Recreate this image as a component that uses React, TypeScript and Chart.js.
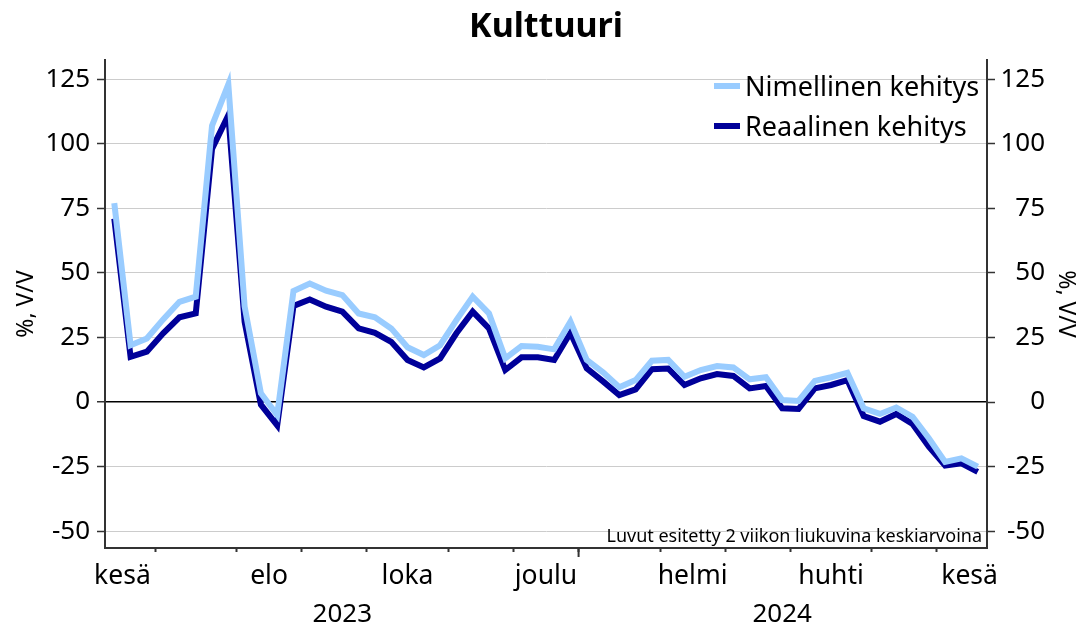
import { useEffect, useRef } from 'react';
import { Chart, registerables } from 'chart.js';

Chart.register(...registerables);

// ---- data ----
const chartTitle = 'Kulttuuri';
const seriesNames = ['Nimellinen kehitys', 'Reaalinen kehitys'];
const nominal = [77, 22, 24.6, 32, 38.8, 40.8, 107, 123, 37, 3.4, -5, 43, 45.9, 43.1, 41.4, 34.3, 32.8, 28.5, 21.2, 18.2, 22, 31.7, 40.8, 34.3, 16.9, 21.7, 21.4, 20.4, 31.1, 16.3, 11.5, 5.7, 8.5, 16, 16.3, 9.8, 12.4, 13.9, 13.4, 8.8, 9.6, 0.8, 0.4, 8.2, 9.6, 11.3, -2.4, -4.6, -2.1, -5.7, -14, -23.2, -21.8, -25];
const real = [71, 17.5, 19.5, 26.6, 32.8, 34.3, 98, 111, 31, -1, -9, 37.2, 39.7, 36.9, 35, 28.5, 26.8, 23.3, 16.3, 13.4, 16.9, 26.6, 35, 28.5, 12.4, 17.3, 17.3, 16.3, 26.8, 13, 8, 2.7, 4.9, 12.7, 13, 6.6, 9.2, 10.8, 10.1, 5.3, 6.2, -2.4, -2.7, 5.3, 6.6, 8.5, -5.4, -7.6, -4.6, -8.5, -17.3, -24.6, -23.7, -27];
const weekIndex = nominal.map((_, i) => i);
const yTicks = [-50, -25, 0, 25, 50, 75, 100, 125];
const monthBoundaries = [2.5, 7.5, 11.5, 15.5, 20.5, 24.5, 28.5, 33.5, 37.5, 41.5, 46.5, 50.5];
const monthLabelPos = [0.5, 9.5, 18, 26.5, 35.5, 44, 52.5];
const monthLabelNames = ['kesä', 'elo', 'loka', 'joulu', 'helmi', 'huhti', 'kesä'];
const yearBoundary = 28.5;
const yearLabelPos = [14, 41];
const yearLabelNames = ['2023', '2024'];
const axisTitle = '%, V/V';
const note = 'Luvut esitetty 2 viikon liukuvina keskiarvoina';

const FAMILY = "'Noto Sans', 'Open Sans', sans-serif";
const LIGHT = '#99ccff';
const DARK = '#000099';
const AXIS = '#333333';

const extras = {
  id: 'extras',
  afterDraw(chart: any) {
    const { ctx, chartArea, scales } = chart;
    const x = scales.x;
    ctx.save();
    // title
    ctx.fillStyle = '#000';
    ctx.font = `bold 34px ${FAMILY}`;
    ctx.textAlign = 'center';
    ctx.textBaseline = 'alphabetic';
    ctx.fillText(chartTitle, (chartArea.left + chartArea.right) / 2, 37);

    // year boundary long tick
    const xb = x.getPixelForValue(yearBoundary);
    ctx.strokeStyle = AXIS;
    ctx.lineWidth = 2;
    ctx.beginPath();
    ctx.moveTo(xb, chartArea.bottom);
    ctx.lineTo(xb, chartArea.bottom + 9);
    ctx.stroke();

    // year labels
    ctx.font = `26px ${FAMILY}`;
    ctx.textAlign = 'center';
    yearLabelNames.forEach((t, i) => {
      ctx.fillText(t, x.getPixelForValue(yearLabelPos[i]), 622);
    });

    // right axis title
    ctx.save();
    ctx.font = `23px ${FAMILY}`;
    ctx.translate(1066, (chartArea.top + chartArea.bottom) / 2);
    ctx.rotate(Math.PI / 2);
    ctx.textAlign = 'center';
    ctx.textBaseline = 'middle';
    ctx.fillText(axisTitle, 0, 0);
    ctx.restore();

    // note
    ctx.font = `18px ${FAMILY}`;
    ctx.textAlign = 'right';
    ctx.textBaseline = 'alphabetic';
    ctx.fillText(note, chartArea.right - 5, chartArea.bottom - 6);

    // legend
    const colors = [LIGHT, DARK];
    const rows = [86, 126];
    const bases = [96, 136];
    ctx.font = `27px ${FAMILY}`;
    ctx.textAlign = 'left';
    seriesNames.forEach((name, i) => {
      ctx.strokeStyle = colors[i];
      ctx.lineWidth = 6;
      ctx.beginPath();
      ctx.moveTo(714, rows[i]);
      ctx.lineTo(740, rows[i]);
      ctx.stroke();
      ctx.fillStyle = '#000';
      ctx.fillText(name, 745, bases[i]);
    });
    ctx.restore();
  },
};

export default function App() {
  const ref = useRef<HTMLCanvasElement>(null);
  useEffect(() => {
    const setYTicks = (scale: any) => {
      scale.ticks = yTicks.map((v) => ({ value: v }));
    };
    const chart = new Chart(ref.current as HTMLCanvasElement, {
      type: 'line',
      data: {
        labels: weekIndex,
        datasets: [
          { label: seriesNames[0], data: nominal, borderColor: LIGHT, backgroundColor: LIGHT, borderWidth: 6, pointRadius: 0, tension: 0, yAxisID: 'y' },
          { label: seriesNames[1], data: real, borderColor: DARK, backgroundColor: DARK, borderWidth: 6, pointRadius: 0, tension: 0, yAxisID: 'y' },
        ],
      },
      options: {
        animation: false,
        responsive: true,
        maintainAspectRatio: false,
        layout: { padding: { top: 60, right: 37, left: 0, bottom: 0 } },
        plugins: { legend: { display: false }, title: { display: false }, tooltip: { enabled: false } },
        scales: {
          x: {
            type: 'linear',
            min: -0.57,
            max: 53.57,
            afterBuildTicks: (scale: any) => {
              const all = [...monthBoundaries, ...monthLabelPos].sort((a, b) => a - b);
              scale.ticks = all.map((v) => ({ value: v }));
            },
            afterFit: (scale: any) => { scale.height = 83; },
            ticks: {
              autoSkip: false,
              maxRotation: 0,
              minRotation: 0,
              padding: 9,
              color: '#000',
              font: { family: FAMILY, size: 26.5 },
              callback: (v: any) => {
                const i = monthLabelPos.indexOf(Number(v));
                return i >= 0 ? monthLabelNames[i] : '';
              },
            },
            grid: {
              drawOnChartArea: false,
              tickLength: 4,
              tickWidth: 2,
              tickColor: (c: any) => (c.tick && monthBoundaries.includes(c.tick.value) ? AXIS : 'rgba(0,0,0,0)'),
            },
            border: { display: true, color: AXIS, width: 2 },
          },
          y: {
            type: 'linear',
            position: 'left',
            min: -56.5,
            max: 132.4,
            afterBuildTicks: setYTicks,
            afterFit: (scale: any) => { scale.width = 105; },
            ticks: { padding: 7, color: '#000', font: { family: FAMILY, size: 26 } },
            grid: {
              color: (c: any) => (c.tick && c.tick.value === 0 ? '#000' : '#cccccc'),
              lineWidth: (c: any) => (c.tick && c.tick.value === 0 ? 1.5 : 1),
              tickLength: 8,
              tickWidth: 1.5,
              tickColor: AXIS,
            },
            border: { display: true, color: AXIS, width: 2 },
            title: { display: true, text: axisTitle, color: '#000', font: { family: FAMILY, size: 23 }, padding: { top: 13, bottom: 0 } },
          },
          y2: {
            type: 'linear',
            position: 'right',
            min: -56.5,
            max: 132.4,
            afterBuildTicks: setYTicks,
            afterFit: (scale: any) => { scale.width = 58; },
            ticks: { padding: 7, crossAlign: 'far', color: '#000', font: { family: FAMILY, size: 26 } },
            grid: { drawOnChartArea: false, tickLength: 8, tickWidth: 1.5, tickColor: AXIS },
            border: { display: true, color: AXIS, width: 2 },
          },
        },
      },
      plugins: [extras],
    } as any);
    return () => chart.destroy();
  }, []);
  return (
    <div style={{ position: 'absolute', left: 0, top: 0, width: 1082, height: 631 }}>
      <canvas ref={ref} />
    </div>
  );
}
